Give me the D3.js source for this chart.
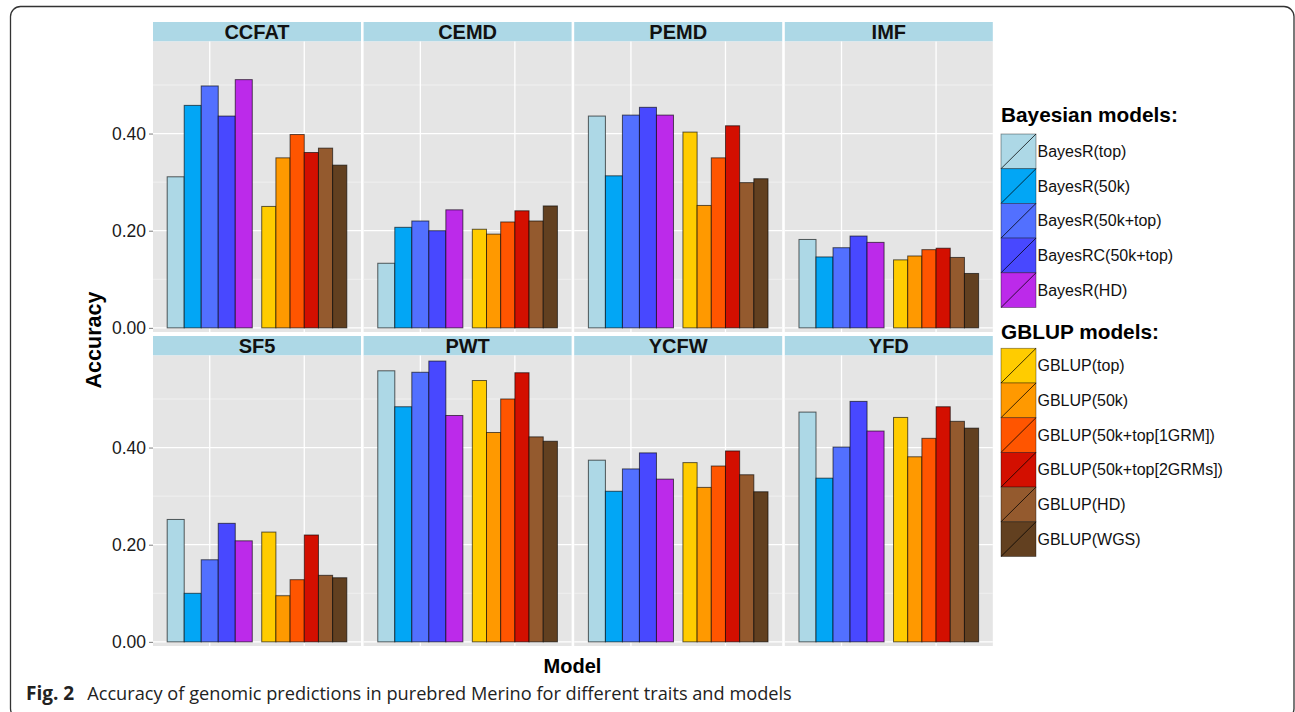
<!DOCTYPE html>
<html>
<head>
<meta charset="utf-8">
<script src="https://cdn.jsdelivr.net/npm/d3@7/dist/d3.min.js"></script>
<style>
  html, body { margin: 0; padding: 0; background: #ffffff; }
  svg { display: block; }
</style>
</head>
<body>
<svg id="chart" width="1295" height="712"></svg>
<script>
// ---------------- DATA ----------------
const traits = ["CCFAT", "CEMD", "PEMD", "IMF", "SF5", "PWT", "YCFW", "YFD"];
const groups = ["Bayesian", "GBLUP"];
const bayesModels = ["BayesR(top)", "BayesR(50k)", "BayesR(50k+top)", "BayesRC(50k+top)", "BayesR(HD)"];
const gblupModels = ["GBLUP(top)", "GBLUP(50k)", "GBLUP(50k+top[1GRM])", "GBLUP(50k+top[2GRMs])", "GBLUP(HD)", "GBLUP(WGS)"];
const bayesColors = ["#ADD8E6", "#02A6F5", "#5270FF", "#4848FF", "#BC2AEA"];
const gblupColors = ["#FFCC00", "#FF9900", "#FF5500", "#D30F00", "#945A2E", "#624020"];

// accuracy per trait, Bayesian models (same order as bayesModels)
const bayesValues = {
  CCFAT: [0.311, 0.458, 0.498, 0.436, 0.511],
  CEMD:  [0.133, 0.207, 0.220, 0.200, 0.243],
  PEMD:  [0.436, 0.313, 0.438, 0.454, 0.438],
  IMF:   [0.182, 0.146, 0.165, 0.189, 0.176],
  SF5:   [0.252, 0.100, 0.169, 0.244, 0.208],
  PWT:   [0.558, 0.484, 0.555, 0.578, 0.466],
  YCFW:  [0.374, 0.310, 0.356, 0.389, 0.335],
  YFD:   [0.473, 0.337, 0.401, 0.495, 0.434]
};
// accuracy per trait, GBLUP models (same order as gblupModels)
const gblupValues = {
  CCFAT: [0.250, 0.350, 0.398, 0.361, 0.370, 0.335],
  CEMD:  [0.203, 0.193, 0.218, 0.241, 0.220, 0.251],
  PEMD:  [0.403, 0.252, 0.350, 0.416, 0.299, 0.307],
  IMF:   [0.140, 0.148, 0.161, 0.164, 0.145, 0.112],
  SF5:   [0.226, 0.095, 0.128, 0.220, 0.137, 0.132],
  PWT:   [0.538, 0.431, 0.500, 0.554, 0.422, 0.413],
  YCFW:  [0.369, 0.318, 0.362, 0.393, 0.344, 0.309],
  YFD:   [0.462, 0.381, 0.419, 0.484, 0.454, 0.440]
};
const yTicks = [0, 0.2, 0.4];
const yMinorTicks = [0.1, 0.3, 0.5];
const yTickLabels = ["0.00", "0.20", "0.40"];

// ---------------- LAYOUT ----------------
const svg = d3.select("#chart");
const FONT = "'Liberation Sans', Arial, Helvetica, sans-serif";

// outer rounded frame
svg.append("rect")
  .attr("x", 10.5).attr("y", 6.5)
  .attr("width", 1283.5).attr("height", 712)
  .attr("rx", 10).attr("ry", 10)
  .attr("fill", "none").attr("stroke", "#333").attr("stroke-width", 1.3);

const panelW = 208, panelGapX = 2.6, leftX = 153;
const stripH = 19.5, panelH = 290.5;
const rowTops = [22, 336];

const y = (row) => d3.scaleLinear()
  .domain([-0.0085, 0.5895])
  .range([rowTops[row] + stripH + panelH, rowTops[row] + stripH]);

const xPos = d3.scaleLinear().domain([0.4, 2.6]).range([0, panelW]);
const dodge = 0.9;

traits.forEach((trait, ti) => {
  const row = Math.floor(ti / 4), col = ti % 4;
  const px = leftX + col * (panelW + panelGapX);
  const py = rowTops[row];
  const ys = y(row);
  const g = svg.append("g").attr("transform", `translate(${px},0)`);

  // strip
  g.append("rect").attr("x", 0).attr("y", py).attr("width", panelW).attr("height", stripH)
    .attr("fill", "#ADD8E6");
  g.append("text").attr("x", panelW / 2).attr("y", py + stripH / 2 + 7)
    .attr("text-anchor", "middle").attr("font-family", FONT).attr("font-weight", "bold")
    .attr("font-size", 20).attr("fill", "#111").text(trait);

  // panel background
  g.append("rect").attr("x", 0).attr("y", py + stripH).attr("width", panelW).attr("height", panelH)
    .attr("fill", "#E5E5E5");

  // minor grid
  g.selectAll(".minor").data(yMinorTicks).enter().append("line")
    .attr("x1", 0).attr("x2", panelW)
    .attr("y1", d => ys(d)).attr("y2", d => ys(d))
    .attr("stroke", "#F2F2F2").attr("stroke-width", 0.8);
  // major grid
  g.selectAll(".major").data(yTicks).enter().append("line")
    .attr("x1", 0).attr("x2", panelW)
    .attr("y1", d => ys(d)).attr("y2", d => ys(d))
    .attr("stroke", "#FFFFFF").attr("stroke-width", 1.3);
  g.selectAll(".vgrid").data(groups).enter().append("line")
    .attr("x1", (d, i) => xPos(i + 1)).attr("x2", (d, i) => xPos(i + 1))
    .attr("y1", py + stripH).attr("y2", py + stripH + panelH)
    .attr("stroke", "#FFFFFF").attr("stroke-width", 1.3);

  // bars
  const sets = [
    { models: bayesModels, colors: bayesColors, values: bayesValues[trait] },
    { models: gblupModels, colors: gblupColors, values: gblupValues[trait] }
  ];
  sets.forEach((s, gi) => {
    const c = xPos(gi + 1);
    const half = (xPos(dodge) - xPos(0)) / 2;
    const band = d3.scaleBand().domain(s.models).range([c - half, c + half]).paddingInner(0);
    g.selectAll(null).data(s.models).enter().append("rect")
      .attr("x", d => band(d))
      .attr("width", band.bandwidth())
      .attr("y", (d, i) => ys(s.values[i]))
      .attr("height", (d, i) => ys(0) - ys(s.values[i]))
      .attr("fill", (d, i) => s.colors[i])
      .attr("stroke", "rgba(0,0,0,0.62)").attr("stroke-width", 1);
  });

  // y axis on first column
  if (col === 0) {
    const axis = d3.axisLeft(ys).tickValues(yTicks).tickSize(4).tickPadding(3)
      .tickFormat((d, i) => yTickLabels[i]);
    const ax = svg.append("g").attr("transform", `translate(${leftX},0)`).call(axis);
    ax.select(".domain").remove();
    ax.selectAll(".tick line").attr("stroke", "#7F7F7F");
    ax.selectAll(".tick text").attr("font-family", FONT).attr("font-size", 17.5)
      .attr("fill", "#1a1a1a");
  }
});

// axis titles
svg.append("text").attr("x", 572.5).attr("y", 672.5).attr("text-anchor", "middle")
  .attr("font-family", FONT).attr("font-weight", "bold").attr("font-size", 20)
  .attr("fill", "#000").text("Model");
svg.append("text").attr("transform", "translate(100.5,340) rotate(-90)").attr("text-anchor", "middle")
  .attr("font-family", FONT).attr("font-weight", "bold").attr("font-size", 21.5)
  .attr("fill", "#000").text("Accuracy");

// legend
const keyX = 1001, keyW = 35, keyH = 34.7;
function legendBlock(title, titleY, startY, models, colors) {
  svg.append("text").attr("x", keyX).attr("y", titleY)
    .attr("font-family", FONT).attr("font-weight", "bold").attr("font-size", 20.8)
    .attr("fill", "#000").text(title);
  models.forEach((m, i) => {
    const ky = startY + i * keyH;
    svg.append("rect").attr("x", keyX).attr("y", ky).attr("width", keyW).attr("height", keyH)
      .attr("fill", colors[i]).attr("stroke", "rgba(0,0,0,0.45)").attr("stroke-width", 0.8);
    svg.append("line").attr("x1", keyX).attr("y1", ky + keyH).attr("x2", keyX + keyW).attr("y2", ky)
      .attr("stroke", "rgba(0,0,0,0.75)").attr("stroke-width", 1);
    svg.append("text").attr("x", keyX + keyW + 1.5).attr("y", ky + keyH / 2 + 5.7)
      .attr("font-family", FONT).attr("font-size", 16).attr("fill", "#111").text(m);
  });
}
legendBlock("Bayesian models:", 121.5, 134, bayesModels, bayesColors);
legendBlock("GBLUP models:", 339, 348.3, gblupModels, gblupColors);

// caption
const cap = svg.append("text").attr("x", 26).attr("y", 699.5)
  .attr("font-family", "'Open Sans', 'Noto Sans', sans-serif").attr("font-size", 18.2).attr("fill", "#222");
cap.append("tspan").attr("font-weight", "bold").attr("font-size", 19).text("Fig. 2");
cap.append("tspan").attr("dx", 13).text("Accuracy of genomic predictions in purebred Merino for different traits and models");
</script>
</body>
</html>
